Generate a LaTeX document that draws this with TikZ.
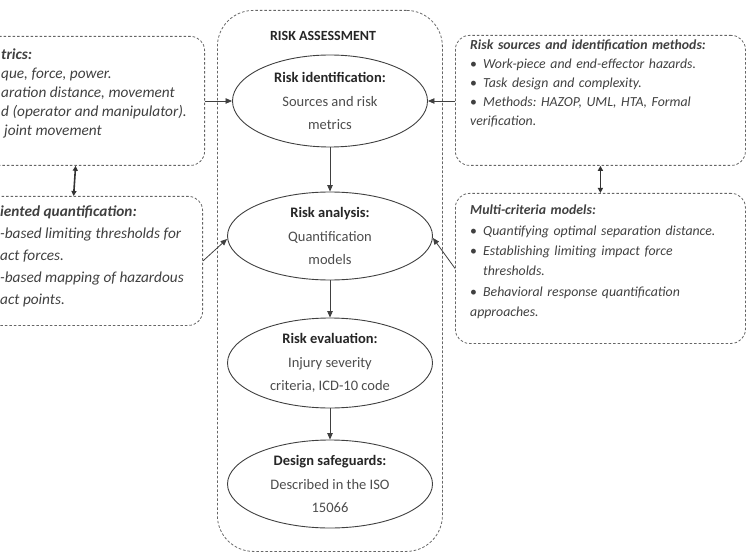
\documentclass[tikz,border=0pt]{standalone}
\usepackage{fontspec}
\setmainfont{Carlito}
\usetikzlibrary{shapes.geometric,arrows.meta}

% bullet item with hanging indent
\newcommand\bul{\par\hangindent=13pt\hangafter=1\noindent\makebox[13pt][l]{\upshape\textbullet}}
% ellipse label: bold heading over regular body
\newcommand\stagetext[2]{{\bfseries\color{black!85}#1}\\#2}

\begin{document}
\begin{tikzpicture}[x=1pt,y=-1pt,
  dashbox/.style={draw=black!60, line width=0.8pt, dash pattern=on 2.6pt off 1.9pt},
  sidebox/.style={dashbox, rounded corners=14pt, inner sep=0pt},
  mainbox/.style={dashbox, rounded corners=36pt, inner sep=0pt},
  stage/.style={ellipse, draw=black!75, line width=0.9pt, inner sep=0pt,
    minimum width=200pt, minimum height=90pt, align=center, text=black!70,
    font=\fontsize{14.5}{23.5}\selectfont},
  sidetext/.style={anchor=north west, align=left, inner sep=0pt, text=black!75},
  flow/.style={draw=black!75, line width=0.8pt, -{Triangle[length=6.5pt,width=5.5pt]}},
  twoway/.style={draw=black!80, line width=1.6pt,
    {Triangle[length=5pt,width=5pt]}-{Triangle[length=5pt,width=5pt]}}]

\useasboundingbox (0,0) rectangle (746,553);
\clip (0,0) rectangle (746,553);

% outer assessment frame
\node[mainbox, anchor=north west, minimum width=225pt, minimum height=541pt] (frame) at (217,10) {};
\node[font=\bfseries\fontsize{14}{16}\selectfont, text=black!85] (title) at (323,36) {RISK ASSESSMENT};

% assessment stages
\node[stage, minimum width=195pt, minimum height=92pt] (e1) at (330,101)
  {\stagetext{Risk identification:}{Sources and risk\\metrics}};
\node[stage, minimum width=205pt, minimum height=88pt] (e2) at (330,236)
  {\stagetext{Risk analysis:}{Quantification\\models}};
\node[stage, minimum width=205pt, minimum height=90pt] (e3) at (330,363)
  {\stagetext{Risk evaluation:}{Injury severity\\criteria, ICD-10 code}};
\node[stage, minimum width=205pt, minimum height=88pt] (e4) at (330,484)
  {\stagetext{Design safeguards:}{Described in the ISO\\15066}};

% side panels
\node[sidebox, anchor=north east, minimum width=250pt, minimum height=129pt] (l1) at (205,36) {};
\node[sidebox, anchor=north east, minimum width=250pt, minimum height=129pt] (l2) at (203,196) {};
\node[sidebox, anchor=north west, minimum width=290pt, minimum height=130pt] (r1) at (455,35) {};
\node[sidebox, anchor=north west, minimum width=290pt, minimum height=150pt] (r2) at (455,193) {};

% panel texts
\node[sidetext, font=\itshape\fontsize{15.3}{19}\selectfont] (l1t) at (1,49)
  {\textbf{trics:}\\que, force,\ power.\\aration distance, movement\\d (operator and manipulator).\\\hspace*{3pt}joint movement};
\node[sidetext, font=\itshape\fontsize{15.3}{22}\selectfont] (l2t) at (0,206)
  {\textbf{iented quantification:}\\-based limiting thresholds for\\act forces.\\-based mapping of hazardous\\act points.};
\node[sidetext, text width=285pt, font=\itshape\fontsize{13.8}{19}\selectfont] (r1t) at (470,40)
  {\frenchspacing\textbf{Risk sources and identification methods:}
   \bul Work-piece and end-effector hazards.
   \bul Task design and complexity.
   \bul Methods: HAZOP, UML, HTA, Formal\newline verification.};
\node[sidetext, text width=285pt, font=\itshape\fontsize{13.8}{20.3}\selectfont] (r2t) at (470,205)
  {\frenchspacing\textbf{Multi-criteria models:}
   \bul Quantifying optimal separation distance.
   \bul Establishing limiting impact force\newline thresholds.
   \bul Behavioral response quantification\newline approaches.};

% connectors
\draw[flow] (e1.south) -- (e2.north);
\draw[flow] (e2.south) -- (e3.north);
\draw[flow] (e3.south) -- (e4.north);
\draw[flow] (l1.east |- e1.west) -- (e1.west);
\draw[flow] (r1.west |- e1.east) -- (e1.east);
\draw[flow] (l2.east) -- ([yshift=-3pt]e2.west);
\draw[flow] (r2.west) -- ([yshift=-2pt]e2.east);
\draw[twoway] ([xshift=-4pt]l1.south) -- ([xshift=-4pt]l2.north);
\draw[twoway] (r1.south) -- (r2.north);
\end{tikzpicture}
\end{document}
